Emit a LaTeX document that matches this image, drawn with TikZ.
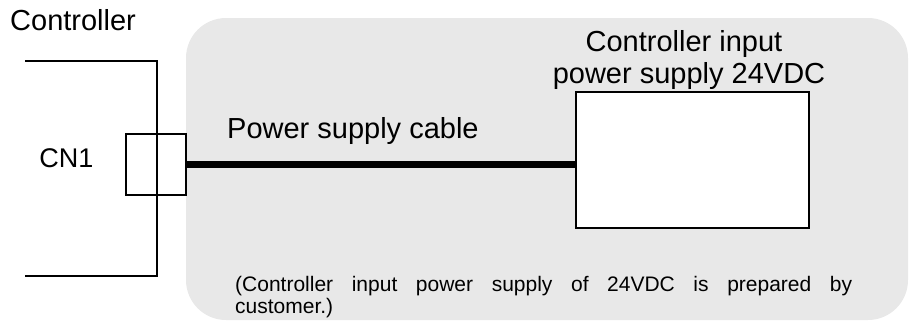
\documentclass[tikz,border=0pt]{standalone}
\usepackage{fontspec}
\setmainfont{Liberation Sans}
\definecolor{panelgray}{RGB}{232,232,232}
\begin{document}
\begin{tikzpicture}[x=1pt,y=-1pt,
  thinline/.style={draw=black,line width=1.1pt},
  bigtext/.style={font=\fontsize{29}{32}\selectfont,inner sep=0pt,anchor=base},
  smalltext/.style={font=\fontsize{21}{25}\selectfont,inner sep=0pt,anchor=base west}]
\useasboundingbox (0,0) rectangle (910,322);
% gray panel
\fill[panelgray,rounded corners=40pt] (186,18) rectangle (908,320);
% controller housing
\coordinate (ctl-tl) at (25,61);
\coordinate (ctl-tr) at (157,61);
\coordinate (ctl-br) at (157,276);
\coordinate (ctl-bl) at (25,276);
\draw[thinline] (ctl-tl) -- (ctl-tr) -- (ctl-br) -- (ctl-bl);
% connector
\node[thinline,minimum width=60pt,minimum height=61pt,inner sep=0pt] (cn1box) at (156,164.5) {};
\node[bigtext,font=\fontsize{27}{30}\selectfont] (cn1) at (66.5,167) {CN1};
\node[bigtext,anchor=base west] (ctltitle) at (10,30) {Controller};
% power supply box
\node[thinline,fill=white,minimum width=233pt,minimum height=136pt,inner sep=0pt] (psu) at (692.5,160) {};
\node[bigtext] (psulabel1) at (684,51) {Controller input};
\node[bigtext] (psulabel2) at (689,83) {power supply 24VDC};
% cable
\draw[line width=6.5pt] (cn1box.east) -- (cn1box.east -| psu.west);
\node[bigtext,anchor=base west] (cablelabel) at (227,138) {Power supply cable};
% note
\node[smalltext] (note1) at (235,291) {\makebox[617pt][s]{(Controller input power supply of 24VDC is prepared by}};
\node[smalltext] (note2) at (235,313) {customer.)};
\end{tikzpicture}
\end{document}
